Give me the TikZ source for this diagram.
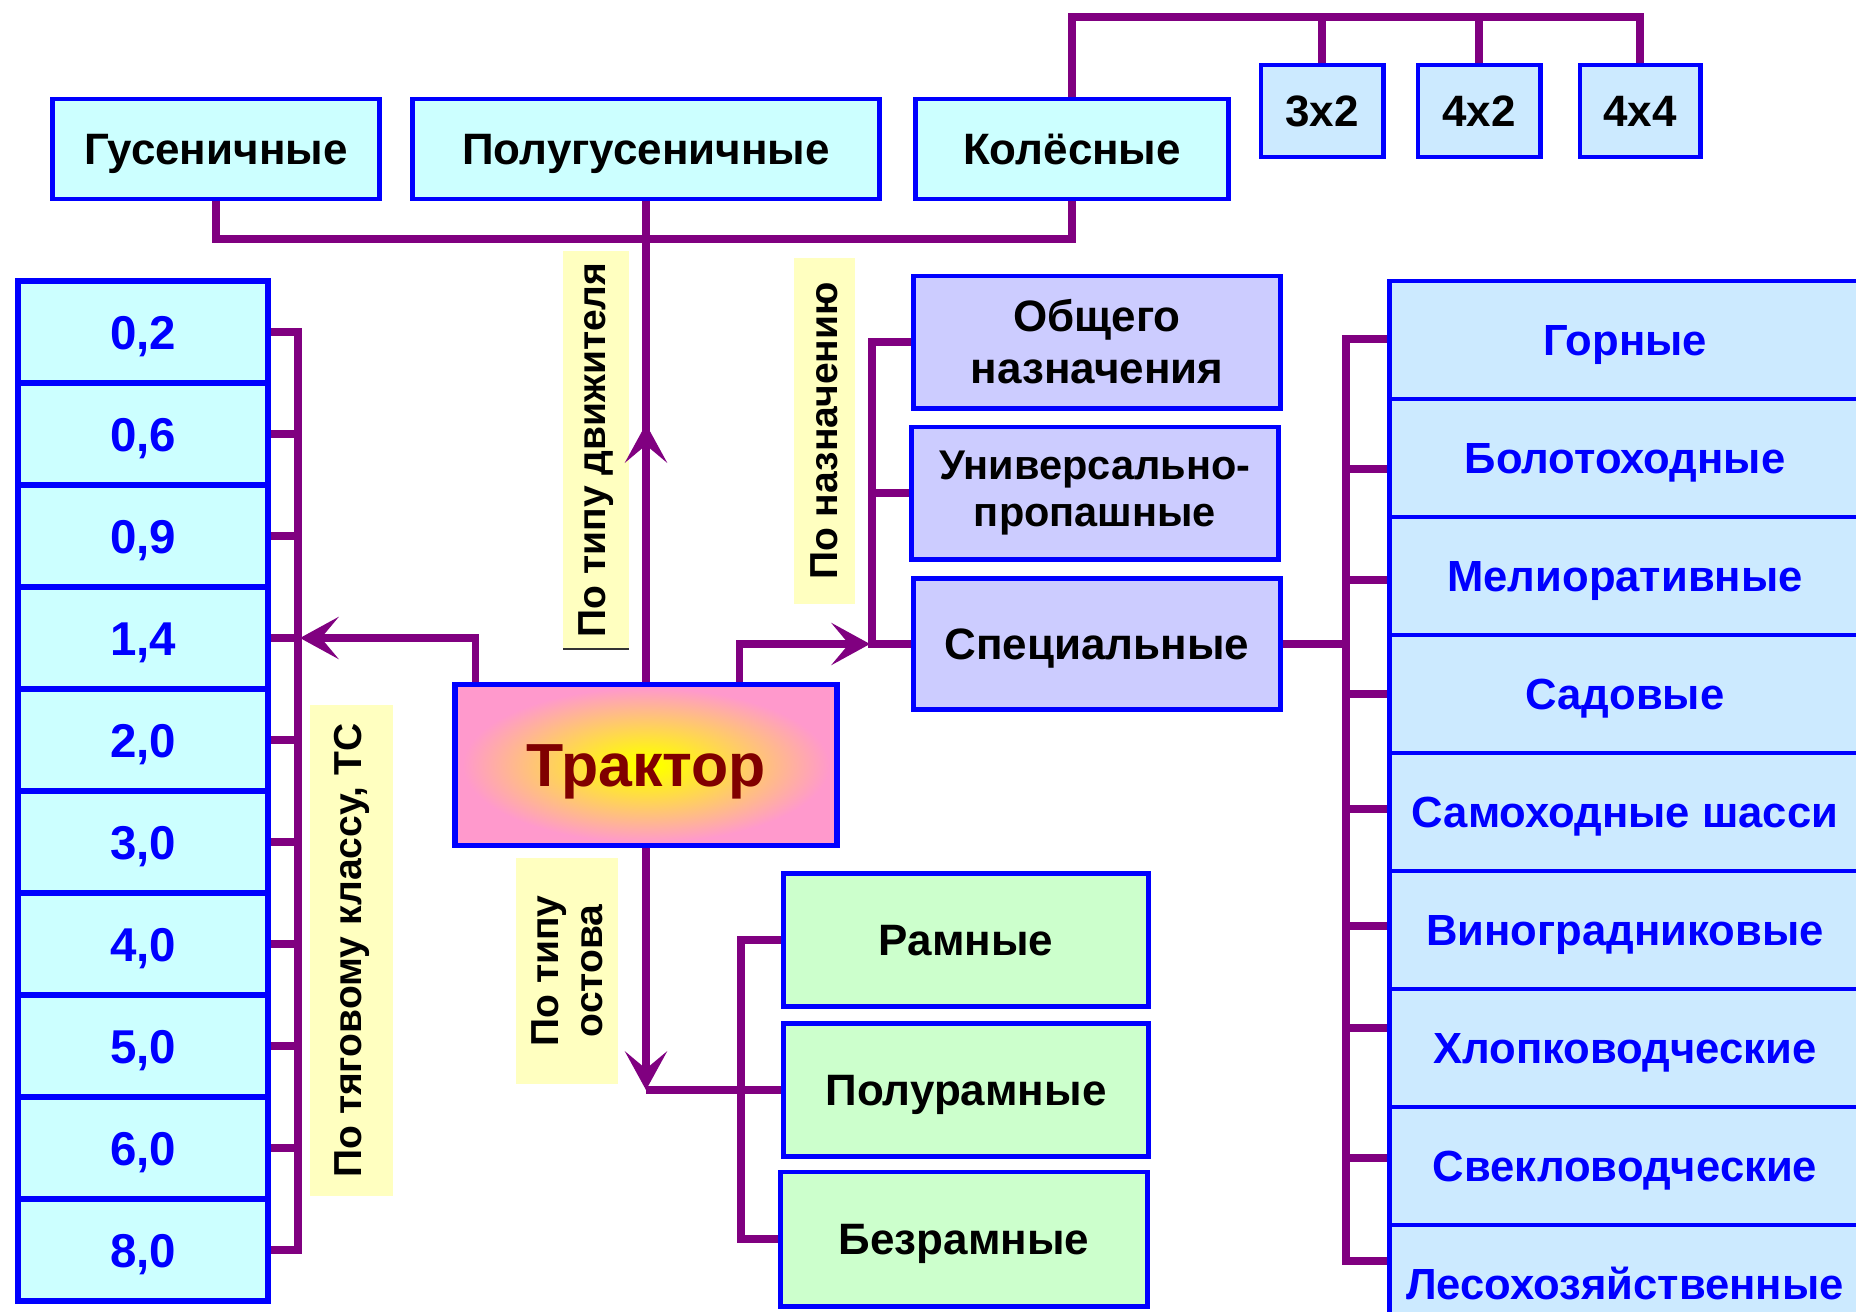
\documentclass[tikz,border=0pt]{standalone}
\usepackage{fontspec}
\setmainfont{Liberation Sans}
\usetikzlibrary{arrows.meta,calc}
\definecolor{bblue}{RGB}{0,0,255}
\definecolor{cpurple}{RGB}{128,0,128}
\definecolor{fcyan}{RGB}{204,255,255}
\definecolor{flblue}{RGB}{204,234,255}
\definecolor{flav}{RGB}{204,204,255}
\definecolor{fgreen}{RGB}{204,255,204}
\definecolor{fyel}{RGB}{255,255,192}
\definecolor{tpink}{RGB}{255,153,204}
\definecolor{tred}{RGB}{128,0,0}
\pgfdeclareradialshading{tshade}{\pgfpoint{0bp}{0bp}}{color(0bp)=(yellow); color(2bp)=(yellow); color(24bp)=(tpink); color(50bp)=(tpink)}
\begin{document}
\begin{tikzpicture}[x=0.01cm,y=-0.01cm,
  box/.style={draw=bblue, line width=1.4pt, inner sep=0pt, align=center,
    font=\bfseries\fontsize{12.5}{13.5}\selectfont},
  one/.style={text height=8.95pt, text depth=0pt},
  topbox/.style={box, one, fill=fcyan},
  wbox/.style={box, one, fill=flblue},
  lbox/.style={box, fill=fcyan, line width=1.7pt, text=bblue,
    minimum width=2.5cm, minimum height=1.02cm,
    text height=9.67pt, text depth=0pt,
    font=\bfseries\fontsize{13.5}{16}\selectfont},
  rbox/.style={box, fill=flblue, text=bblue,
    minimum width=4.7cm, minimum height=1.18cm,
    text height=8.9pt, text depth=0pt,
    font=\bfseries\fontsize{12.4}{14}\selectfont},
  pbox/.style={box, fill=flav, minimum width=3.67cm, minimum height=1.32cm},
  gbox/.style={box, one, fill=fgreen, minimum width=3.65cm, minimum height=1.33cm},
  ylabel/.style={fill=fyel, inner sep=0pt, rotate=90, align=center,
    font=\bfseries\fontsize{11.1}{12.5}\selectfont},
  cline/.style={draw=cpurple, line width=2pt},
  tip/.style={-{Stealth[length=11pt,width=12pt,inset=5pt]}}
]
\useasboundingbox (0,0) rectangle (1856,1312);
\fill[white] (0,0) rectangle (1856,1312);

% top row
\node[topbox, minimum width=3.26cm, minimum height=1cm] (gus) at (216,149) {Гусеничные};
\node[topbox, minimum width=4.67cm, minimum height=1cm] (polug) at (646,149) {Полугусеничные};
\node[topbox, minimum width=3.13cm, minimum height=1cm] (kol) at (1072,149) {Колёсные};
\node[wbox, minimum width=1.22cm, minimum height=0.92cm] (w32) at (1322,111) {3x2};
\node[wbox, minimum width=1.22cm, minimum height=0.92cm] (w42) at (1479,111) {4x2};
\node[wbox, minimum width=1.20cm, minimum height=0.92cm] (w44) at (1640,111) {4x4};

% left column
\foreach \t [count=\i] in {{0,2},{0,6},{0,9},{1,4},{2,0},{3,0},{4,0},{5,0},{6,0},{8,0}}
  \node[lbox] (l\i) at (143,{332+102*(\i-1)}) {\t};

% right column
\foreach \t [count=\i] in {Горные,Болотоходные,Мелиоративные,Садовые,Самоходные шасси,Виноградниковые,Хлопководческие,Свекловодческие,Лесохозяйственные}
  \node[rbox] (r\i) at (1625,{340+118*(\i-1)}) {\t};

% purpose boxes
\node[pbox, font=\bfseries\fontsize{12.5}{14.8}\selectfont] (obsh) at (1097,342) {Общего\\назначения};
\node[pbox, font=\bfseries\fontsize{11.8}{13.6}\selectfont] (univ) at (1095,493) {Универсально-\\пропашные};
\node[pbox, one, minimum height=1.31cm] (spec) at (1097,644) {Специальные};

% frame boxes
\node[gbox] (ramn) at (966,940) {Рамные};
\node[gbox] (polur) at (966,1090) {Полурамные};
\node[gbox, minimum width=3.67cm, minimum height=1.34cm] (bezr) at (964,1239) {Безрамные};

% tractor
\node[draw=bblue, line width=1.6pt, shading=tshade, minimum width=3.82cm, minimum height=1.61cm,
  inner sep=0pt, text height=12.5pt, text depth=0pt,
  text=tred, font=\bfseries\fontsize{17.3}{20}\selectfont] (trak) at (646,765) {Трактор};

% yellow labels
\node[ylabel, minimum width=4.91cm, minimum height=0.83cm] (lblTC) at (351.5,950.5) {По тяговому классу, ТС};
\node[ylabel, minimum width=3.98cm, minimum height=0.66cm] (lblDv) at (596,450) {По типу движителя};
\node[ylabel, minimum width=3.46cm, minimum height=0.61cm] (lblNaz) at (824.5,431) {По назначению};
\node[ylabel, minimum width=2.26cm, minimum height=1.02cm] (lblOst) at (567,971) {По типу\\остова};
\draw[line width=0.8pt, black!80] (563,649) -- (629,649);

% connectors: top
\draw[cline] (gus.south) -- (gus.south |- 0,239) -- (kol.south |- 0,239) -- (kol.south);
\draw[cline] (trak.north) -- (polug.south);
\draw[cline, tip] (trak.north) -- (trak.north |- 0,424);
\draw[cline] (kol.north) -- (kol.north |- 0,17) -- (w44.north |- 0,17) -- (w44.north);
\draw[cline] (w32.north) -- (w32.north |- 0,17);
\draw[cline] (w42.north) -- (w42.north |- 0,17);

% connectors: left column
\draw[cline] (l1.east) -- (l1.east -| 298,0) -- (l10.east -| 298,0) -- (l10.east);
\foreach \i in {2,...,9}
  \draw[cline] (l\i.east) -- (l\i.east -| 298,0);
\draw[cline, tip] ($(trak.north west)+(23,0)$) |- (l4.east -| 300,0);

% connectors: purpose
\draw[cline] (obsh.west) -- (obsh.west -| 872,0) -- (spec.west -| 872,0) -- (spec.west);
\draw[cline] (univ.west) -- (univ.west -| 872,0);
\draw[cline, tip] ($(trak.north east)+(-100,0)$) |- (spec.west -| 870,0);

% connectors: special
\draw[cline] (spec.east) -- (spec.east -| 1346,0);
\draw[cline] (r1.west |- 0,339) -- (1346,339) -- (1346,1261) -- (r9.west |- 0,1261);
\draw[cline] (r2.west |- 0,469) -- (1346,469);
\draw[cline] (r3.west |- 0,580) -- (1346,580);
\draw[cline] (r4.west |- 0,694) -- (1346,694);
\draw[cline] (r5.west |- 0,809) -- (1346,809);
\draw[cline] (r6.west |- 0,926) -- (1346,926);
\draw[cline] (r7.west |- 0,1028) -- (1346,1028);
\draw[cline] (r8.west |- 0,1158) -- (1346,1158);

% connectors: frame
\draw[cline] (ramn.west) -- (ramn.west -| 741,0) -- (bezr.west -| 741,0) -- (bezr.west);
\draw[cline, tip] (trak.south) -- (trak.south |- polur.west);
\draw[cline] (trak.south |- polur.west) -- (polur.west);
\end{tikzpicture}
\end{document}
